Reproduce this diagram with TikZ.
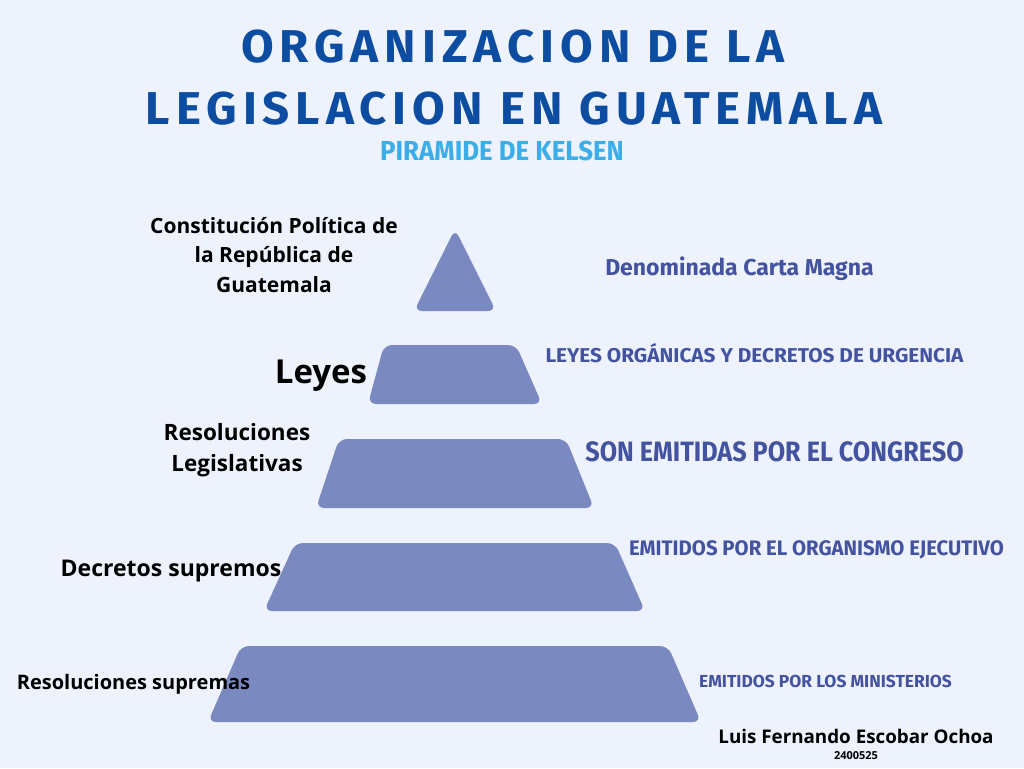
\documentclass[tikz,border=0pt]{standalone}
\usepackage{fontspec}
\setmainfont{Open Sans}
\newfontfamily\titlefont[LetterSpace=13,FakeStretch=1.03]{Fira Sans}
\newfontfamily\barfont{Fira Sans}
\newfontfamily\opfont{Open Sans}
\definecolor{bgc}{HTML}{EEF2FC}
\definecolor{shapec}{HTML}{7A89C0}
\definecolor{titlec}{HTML}{0D4DA1}
\definecolor{subc}{HTML}{3BAEE9}
\definecolor{rightc}{HTML}{4353A0}
\newcommand{\rfont}[2]{\barfont\bfseries\addfontfeatures{FakeStretch=#2}\fontsize{#1}{#1}\selectfont}
\newcommand{\lfont}[1]{\opfont\bfseries\fontsize{#1}{#1}\selectfont}
\tikzset{
  lvl/.style={fill=shapec, draw=none, rounded corners=8pt},
  lefttxt/.style={text=black, align=center, inner sep=0pt},
  righttxt/.style={text=rightc, inner sep=0pt},
  titletxt/.style={font=\titlefont\bfseries\fontsize{46}{62}\selectfont, text=titlec, inner sep=0pt}
}
\begin{document}
\begin{tikzpicture}[x=1pt,y=-1pt]
\fill[bgc] (0,0) rectangle (1024,768);
\useasboundingbox (0,0) rectangle (1024,768);
% title
\node[titletxt] (t1) at (513,47) {ORGANIZACION DE LA};
\node[titletxt] (t2) at (514,109) {LEGISLACION EN GUATEMALA};
\node[font=\rfont{27.5}{0.94}, text=subc, inner sep=0pt] (sub) at (502,151) {PIRAMIDE DE KELSEN};
% pyramid levels
\fill[lvl] (455,229) -- (496,311) -- (414,311) -- cycle;
\fill[lvl] (384,345) -- (516,345) -- (542,404) -- (368,404) -- cycle;
\fill[lvl] (339,439) -- (566,439) -- (594,508) -- (316,508) -- cycle;
\fill[lvl] (295,543) -- (615,543) -- (645,611) -- (264,611) -- cycle;
\fill[lvl] (241,646) -- (668,646) -- (701,722) -- (208,722) -- cycle;
% left labels
\node[lefttxt, font=\lfont{21}, align=center] (l1) at (274,255) {Constitución Política de\\[8.5pt]la República de\\[8.5pt]Guatemala};
\node[lefttxt, font=\lfont{33}] (l2) at (321,376) {Leyes};
\node[lefttxt, font=\lfont{22.5}] (l3) at (237,450) {Resoluciones\\[8.5pt]Legislativas};
\node[lefttxt, font=\lfont{23}] (l4) at (171,571) {Decretos supremos};
\node[lefttxt, font=\lfont{20}] (l5) at (133.5,684) {Resoluciones supremas};
% right labels
\node[righttxt, font=\rfont{23}{1.0}] (r1) at (739.5,269) {Denominada Carta Magna};
\node[righttxt, font=\rfont{20}{1.04}] (r2) at (754.5,353) {LEYES ORGÁNICAS Y DECRETOS DE URGENCIA};
\node[righttxt, font=\rfont{28}{0.9}] (r3) at (774.5,452) {SON EMITIDAS POR EL CONGRESO};
\node[righttxt, font=\rfont{21}{0.97}] (r4) at (816.5,550) {EMITIDOS POR EL ORGANISMO EJECUTIVO};
\node[righttxt, font=\rfont{17.4}{1.0}] (r5) at (825.5,681) {EMITIDOS POR LOS MINISTERIOS};
% author
\node[lefttxt, font=\lfont{18.8}] (a1) at (856,736) {Luis Fernando Escobar Ochoa};
\node[lefttxt, font=\lfont{11}] (a2) at (856,756) {2400525};
\end{tikzpicture}
\end{document}
